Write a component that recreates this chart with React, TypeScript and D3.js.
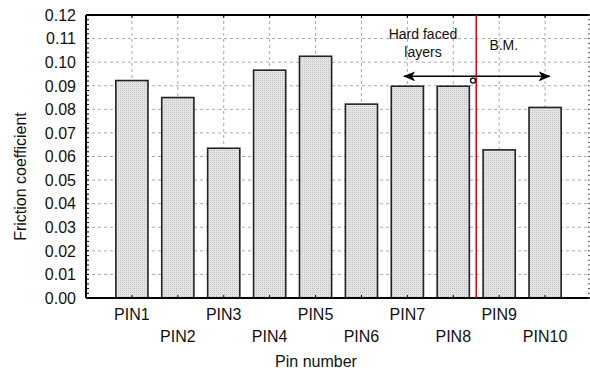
import React from "react";
import * as d3 from "d3";

// values
const pins = ["PIN1", "PIN2", "PIN3", "PIN4", "PIN5", "PIN6", "PIN7", "PIN8", "PIN9", "PIN10"];
const friction = [0.0922, 0.085, 0.0635, 0.0966, 0.1025, 0.0822, 0.0898, 0.0898, 0.0628, 0.0808];
const yTicks = [0, 0.01, 0.02, 0.03, 0.04, 0.05, 0.06, 0.07, 0.08, 0.09, 0.1, 0.11, 0.12];

// annotation positions in data units
const divider = 8.5;
const arrowSpan = [6.93, 10.1];
const arrowLevel = 0.094;
const marker = {x: 8.43, y: 0.0922};

const W = 590;
const H = 374;
const margin = {top: 15, right: 0, bottom: 76, left: 86};
const font = "'Liberation Sans', Arial, sans-serif";

export default function App() {
  const x = d3.scaleLinear().domain([0, 11]).range([margin.left, W + 1]);
  const y = d3.scaleLinear().domain([0, 0.12]).range([H - margin.bottom, margin.top]);
  const barW = x(0.7) - x(0);
  const minor = d3.range(0, 0.1201, 0.002);
  const top = y(0.12);
  const bottom = y(0);

  return (
    <div style={{position: "fixed", left: 0, top: 0}}>
      <svg width={W} height={H} style={{display: "block", background: "#fff"}}>
        <defs>
          <pattern id="dots" width={2} height={2} patternUnits="userSpaceOnUse">
            <rect width={2} height={2} fill="#e4e4e4" />
            <rect width={1} height={1} fill="#c4c4c4" />
          </pattern>
          <marker id="head" viewBox="0 0 12 10" refX={11} refY={5} markerWidth={12} markerHeight={10} markerUnits="userSpaceOnUse" orient="auto-start-reverse">
            <path d="M0,0 L12,5 L0,10 L3,5 Z" fill="#000" />
          </marker>
        </defs>

        {/* grid */}
        {yTicks.slice(1, -1).map((t) => (
          <line key={"gy" + t} x1={margin.left} x2={W} y1={y(t)} y2={y(t)} stroke="#aaa" strokeDasharray="3,3" />
        ))}
        {pins.map((p, i) => (
          <line key={"gx" + p} x1={x(i + 1)} x2={x(i + 1)} y1={top} y2={bottom} stroke="#aaa" strokeDasharray="3,3" />
        ))}

        {/* bars */}
        {friction.map((v, i) => (
          <rect key={pins[i]} x={x(i + 1) - barW / 2} y={y(v)} width={barW} height={bottom - y(v)}
            fill="url(#dots)" stroke="#222" strokeWidth={1.6} />
        ))}

        {/* frame */}
        <line x1={margin.left} x2={W} y1={top} y2={top} stroke="#000" strokeWidth={2} />
        <line x1={margin.left} x2={W} y1={bottom} y2={bottom} stroke="#000" strokeWidth={2} />
        <line x1={margin.left} x2={margin.left} y1={top} y2={bottom} stroke="#000" strokeWidth={2} />
        {minor.map((t) => (
          <g key={"m" + t}>
            <line x1={margin.left} x2={margin.left + 3} y1={y(t)} y2={y(t)} stroke="#000" />
            <line x1={W - 2} x2={W} y1={y(t)} y2={y(t)} stroke="#555" />
          </g>
        ))}
        {pins.map((p, i) => (
          <g key={"t" + p}>
            <line x1={x(i + 1)} x2={x(i + 1)} y1={top} y2={top + 3} stroke="#000" />
            <line x1={x(i + 1)} x2={x(i + 1)} y1={bottom} y2={bottom - 3} stroke="#000" />
          </g>
        ))}

        {/* y tick labels */}
        {yTicks.map((t) => (
          <text key={"yl" + t} x={76} y={y(t)} dy="0.36em" textAnchor="end" fontFamily={font} fontSize={16} fill="#111">
            {t.toFixed(2)}
          </text>
        ))}
        {/* x tick labels, staggered */}
        {pins.map((p, i) => (
          <text key={"xl" + p} x={x(i + 1)} y={i % 2 === 0 ? 320 : 342} textAnchor="middle" fontFamily={font} fontSize={16} fill="#111">
            {p}
          </text>
        ))}

        <text x={316} y={367} textAnchor="middle" fontFamily={font} fontSize={16} fill="#111">Pin number</text>
        <text transform={`translate(26,${(top + bottom) / 2 + 20}) rotate(-90)`} textAnchor="middle" fontFamily={font} fontSize={16} fill="#111">
          Friction coefficient
        </text>

        {/* annotations */}
        <line x1={x(divider)} x2={x(divider)} y1={top} y2={bottom} stroke="#e00000" strokeWidth={1.5} />
        <line x1={x(arrowSpan[0])} x2={x(arrowSpan[1])} y1={y(arrowLevel)} y2={y(arrowLevel)} stroke="#000" strokeWidth={1.5}
          markerStart="url(#head)" markerEnd="url(#head)" />
        <circle cx={x(marker.x)} cy={y(marker.y)} r={2.5} fill="#fff" stroke="#000" strokeWidth={1.3} />
        <text x={x(7.34)} y={y(0.1097)} textAnchor="middle" fontFamily={font} fontSize={14} fill="#111">Hard faced</text>
        <text x={x(7.34)} y={y(0.1021)} textAnchor="middle" fontFamily={font} fontSize={14} fill="#111">layers</text>
        <text x={x(9.1)} y={y(0.105)} textAnchor="middle" fontFamily={font} fontSize={14} fill="#111">B.M.</text>
      </svg>
    </div>
  );
}
